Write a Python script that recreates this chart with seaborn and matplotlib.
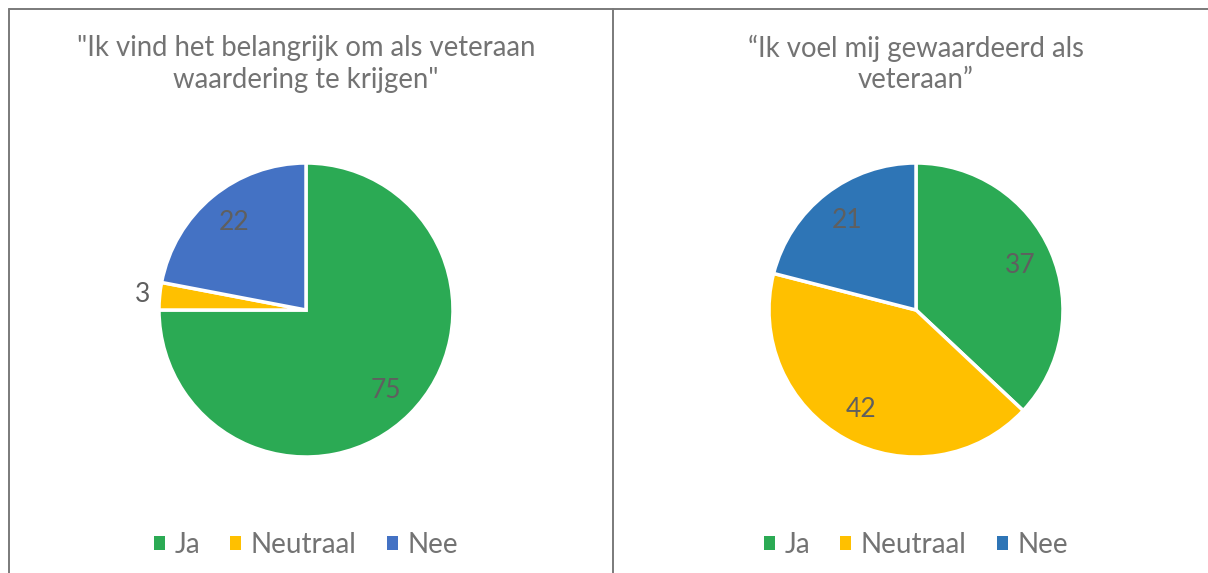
import numpy as np
import matplotlib
matplotlib.use("Agg")
import matplotlib.pyplot as plt
from matplotlib.lines import Line2D
from matplotlib.patches import Patch
import seaborn as sns

sns.set_theme(style="white")
plt.rcParams['font.family'] = ['Lato', 'DejaVu Sans']

categories = ["Ja", "Neutraal", "Nee"]
values_left = [75, 3, 22]
values_right = [37, 42, 21]
title_left = "\"Ik vind het belangrijk om als veteraan\nwaardering te krijgen\""
title_right = "\u201cIk voel mij gewaardeerd als\nveteraan\u201d"
colors_left = ["#2BAA54", "#FFC000", "#4472C4"]
colors_right = ["#2BAA54", "#FFC000", "#2E75B6"]

label_color = "#5f5f5f"
text_color = "#737373"

fig = plt.figure(figsize=(12.08, 5.73), dpi=100)
W, H = 1208, 573

def px_ax(x0, y0, w, h):
    # pixel box (top-left origin) -> figure axes
    return fig.add_axes([x0 / W, 1 - (y0 + h) / H, w / W, h / H])

def draw_pie(ax, values, colors, title, cx_px):
    wedges, texts = ax.pie(values, colors=colors, startangle=90, counterclock=False,
                           wedgeprops=dict(edgecolor="white", linewidth=2.5),
                           labels=None)
    ax.set_aspect("equal")
    ax.set_xlim(-1, 1)
    ax.set_ylim(-1, 1)
    for w, v in zip(wedges, values):
        ang = np.deg2rad((w.theta1 + w.theta2) / 2)
        d = 0.77 if v >= 10 else 1.12
        ax.text(d * np.cos(ang), d * np.sin(ang), str(v), ha="center", va="center",
                fontsize=19, color=label_color)
    fig.text(cx_px / W, 1 - 64 / H, title, ha="center", va="center",
             fontsize=19.8, color=text_color, linespacing=1.25)
    handles = [Patch(facecolor=c, edgecolor="none") for c in colors]
    fig.legend(handles, categories, loc="center", bbox_to_anchor=(cx_px / W, 1 - 545 / H),
               ncol=3, frameon=False, fontsize=20, labelcolor=text_color,
               handlelength=0.38, handleheight=0.38, handletextpad=0.35, columnspacing=1.1)

r = 147
ax1 = px_ax(306 - r, 310 - r, 2 * r, 2 * r)
draw_pie(ax1, values_left, colors_left, title_left, 306)
ax2 = px_ax(916 - r, 310 - r, 2 * r, 2 * r)
draw_pie(ax2, values_right, colors_right, title_right, 916)

# panel frames
frame_kw = dict(color="#7a7a7a", linewidth=1.4, transform=fig.transFigure)
fig.add_artist(Line2D([9 / W, 1], [1 - 9 / H, 1 - 9 / H], **frame_kw))
fig.add_artist(Line2D([9 / W, 9 / W], [0, 1 - 9 / H], **frame_kw))
fig.add_artist(Line2D([613 / W, 613 / W], [0, 1 - 9 / H], **frame_kw))

fig.savefig("out.png", dpi=100)
